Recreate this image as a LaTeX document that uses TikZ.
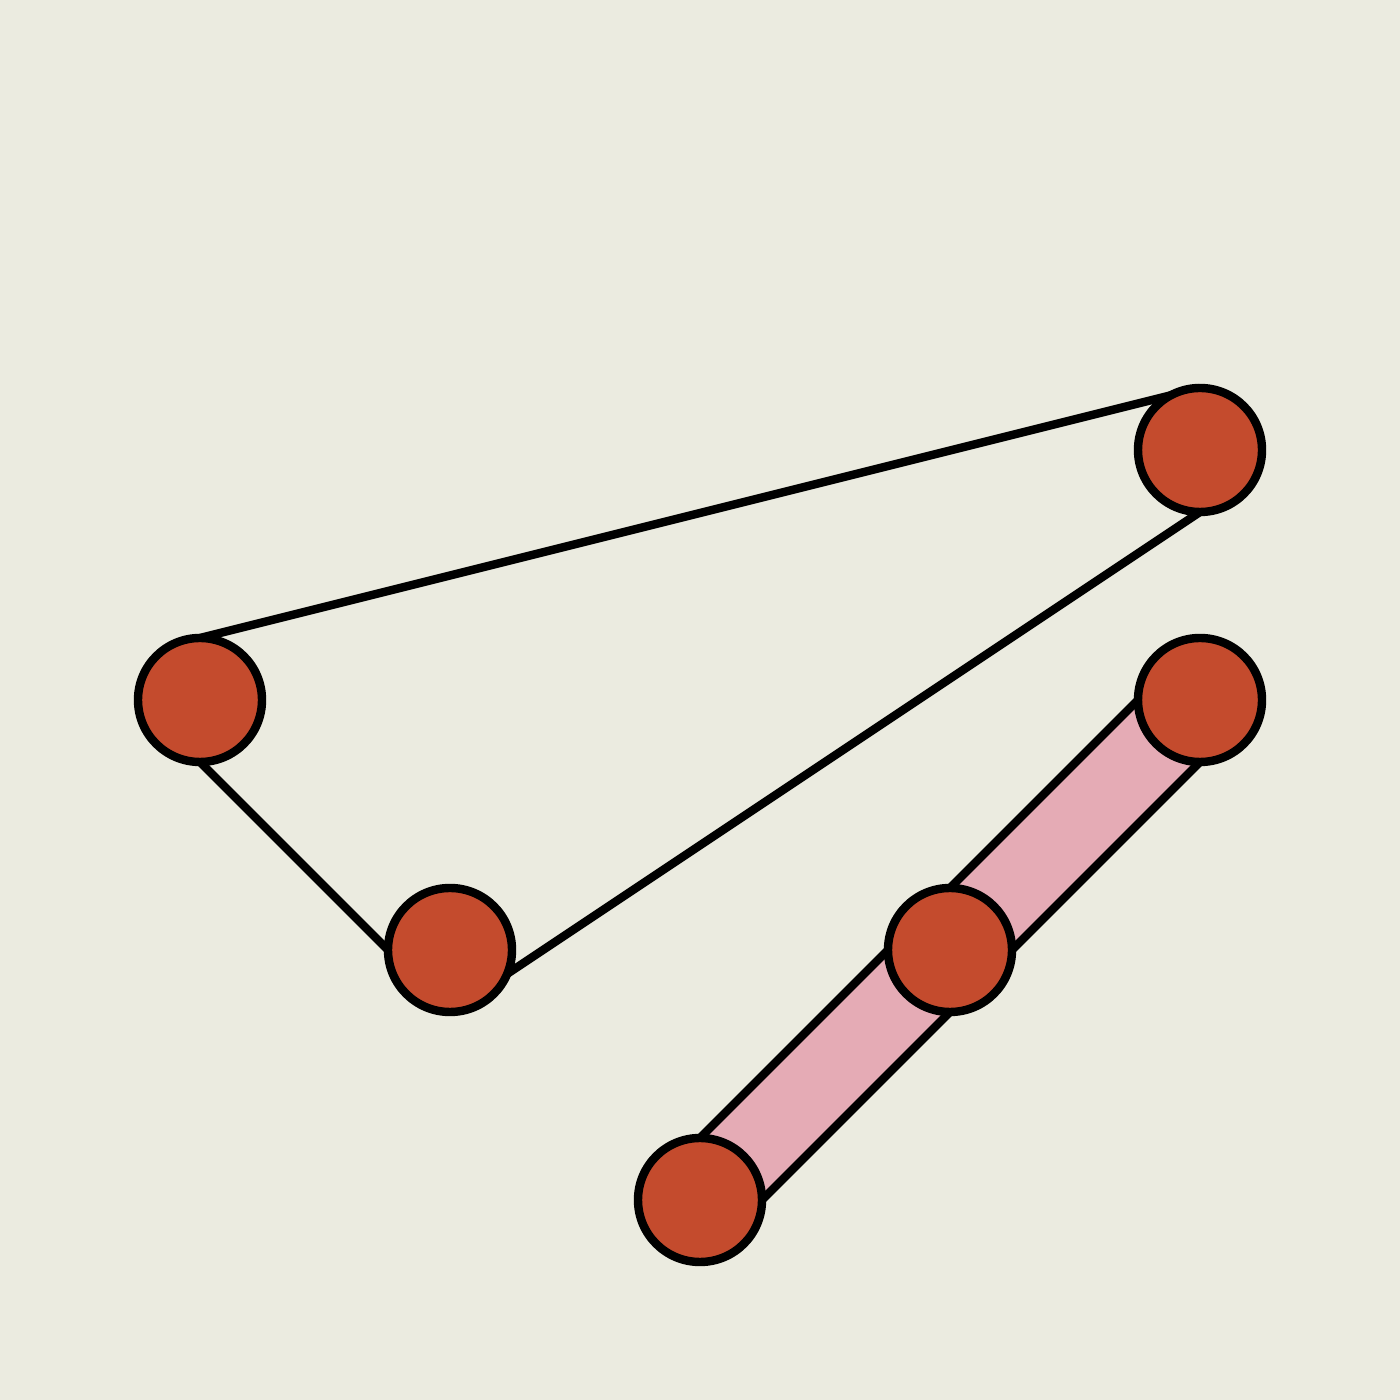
\documentclass[tikz,border=0pt]{standalone}
\usetikzlibrary{backgrounds}

\begin{document}
\begin{tikzpicture}

\definecolor{bgcolor}{RGB}{235, 235, 224}
\definecolor{ballcolor}{RGB}{196, 75, 45}
\definecolor{bandcolor}{RGB}{229, 171, 181}

\def\linew{2.4pt}
\def\ballsize{1.24cm}

\tikzset{
  ball/.style={circle,draw=black,fill=ballcolor,line width=\linew,minimum size=\ballsize,inner sep=0pt,outer sep=0pt},
  rod/.style={draw=black,line width=\linew}
}

% DRAW THE CANVAS
\useasboundingbox (0,0) rectangle (14,14);

% DRAW THE BALLS
\node[ball] (ballA) at (2,7) {};
\node[ball] (ballB) at (4.5,4.5) {};
\node[ball] (ballC) at (12,9.5) {};
\node[ball] (ballD) at (7,2) {};
\node[ball] (ballE) at (9.5,4.5) {};
\node[ball] (ballF) at (12,7) {};

\begin{scope}[on background layer]
  \fill[bgcolor] (0,0) rectangle (14,14);

  % DRAW THE BAND
  \filldraw[rod,fill=bandcolor] (ballD.north) -- (ballF.west) -- (ballF.south) -- (ballD.east) -- cycle;

  % DRAW THE RODS
  \draw[rod] (ballA.north) -- (ballC.north);
  \draw[rod] (ballA.south) -- (ballB.west);
  \draw[rod] (ballB.south) -- (ballC.south);
\end{scope}

\end{tikzpicture}
\end{document}
